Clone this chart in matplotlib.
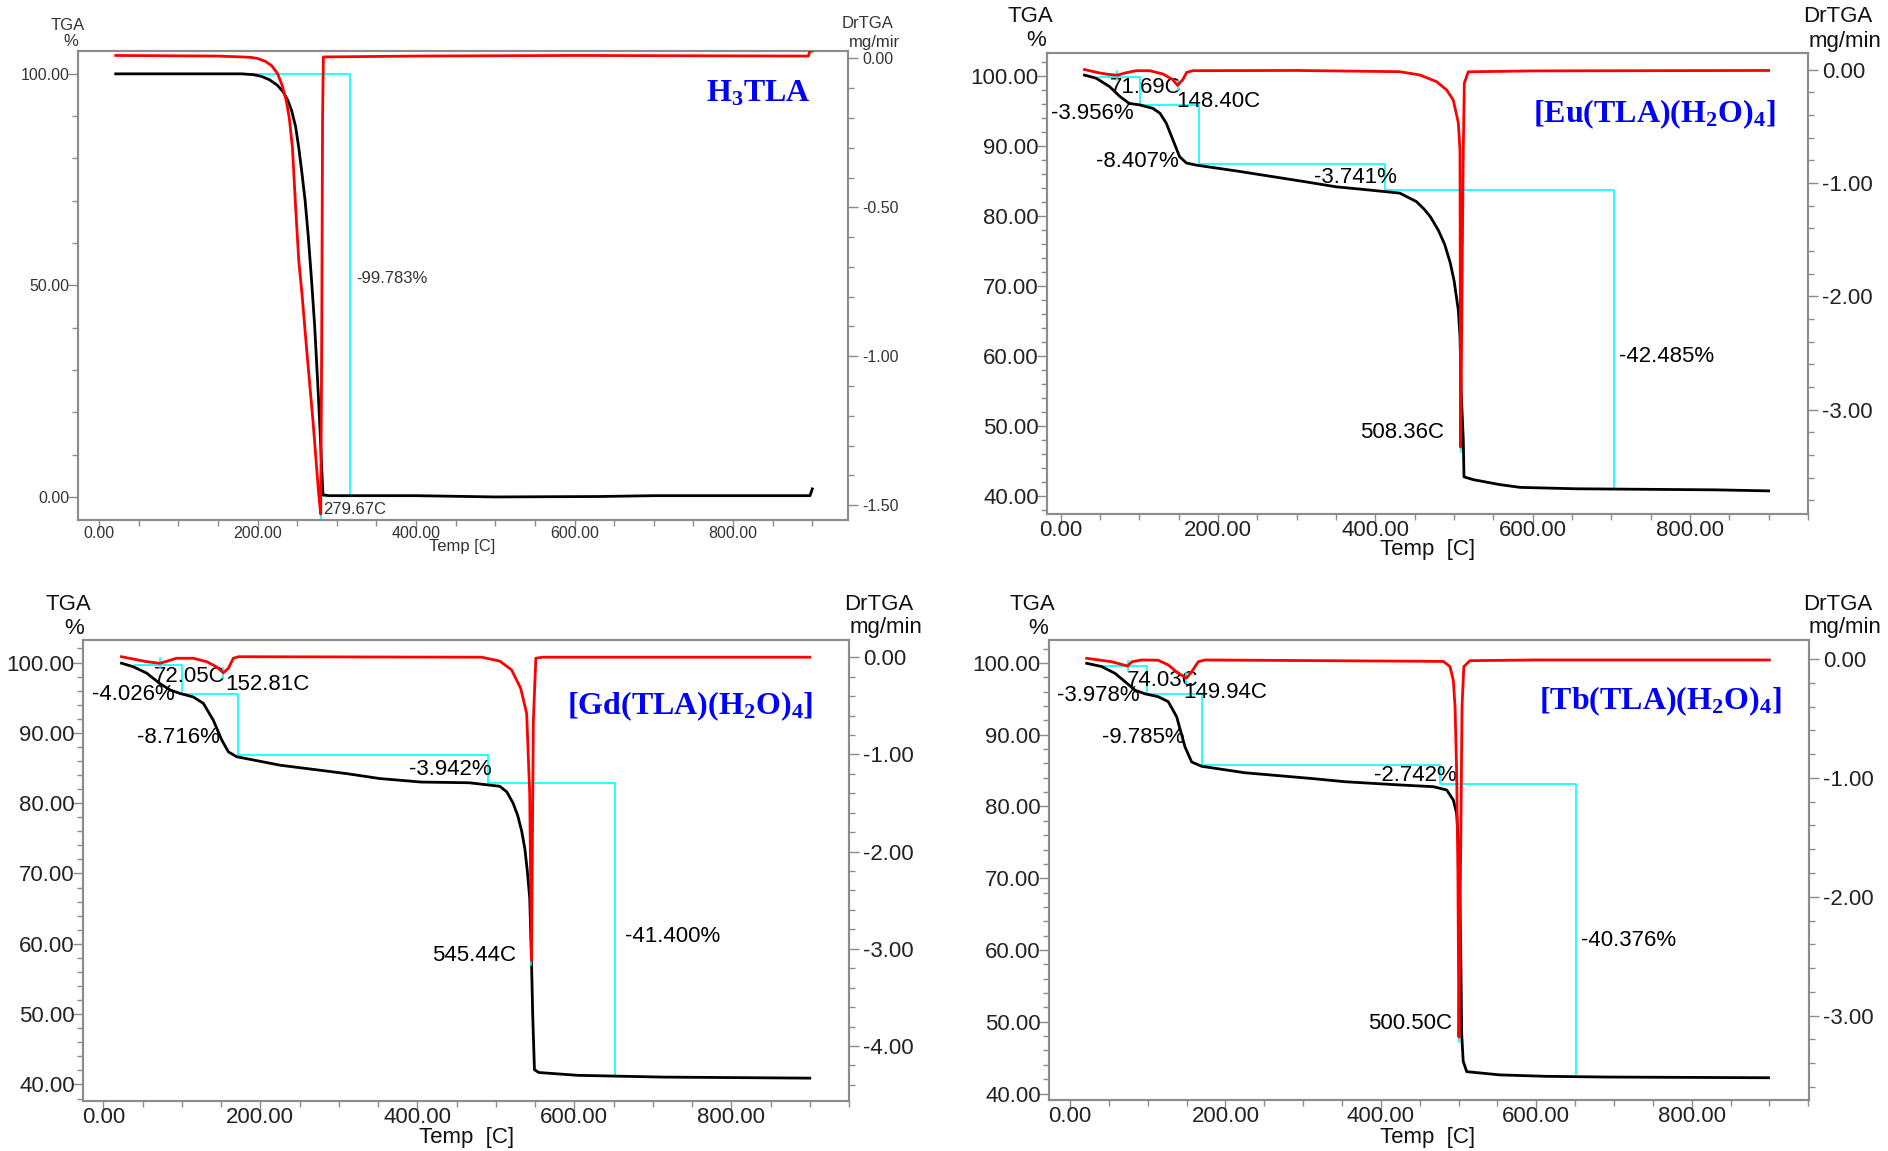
"""
TGA / DrTGA curves for the ligand and the three Ln complexes (2x2 panels).
"""

import matplotlib
matplotlib.use("Agg")
import matplotlib.pyplot as plt
from matplotlib.ticker import MultipleLocator, FormatStrFormatter
from matplotlib.transforms import Bbox, TransformedBbox

W_PX, H_PX = 1888, 1151
DPI = 100

_BLACK = "#000000"
_RED = "#FF0000"
_CYAN = "#00FFFF"
_FRAME = "#8C8C8C"
_TITLE = "#0000FF"

plt.rcParams["font.family"] = ["Liberation Sans", "DejaVu Sans"]
plt.rcParams["mathtext.default"] = "regular"

# ---------------- H3TLA ----------------
h3tla_temp = [21, 100, 180, 195, 205, 215, 225, 232, 238, 243, 248, 252, 256, 260,
              264, 268, 272, 276, 279, 281, 282.5, 290, 400, 500, 630, 700, 800, 897, 900]
h3tla_tga = [100, 100, 100, 99.8, 99.4, 98.6, 97.3, 95.8, 93.8, 91.3, 87.5, 82.5, 76.5,
             70.0, 61.5, 51.5, 40.5, 26.5, 15.0, 6.5, 0.5, 0.3, 0.3, 0.0, 0.1, 0.3, 0.3,
             0.3, 1.9]
h3tla_dtemp = [21, 150, 190, 200, 210, 218, 225, 231, 236, 240, 244, 248, 252, 256, 262,
               270, 277, 279.67, 281, 282, 283, 400, 600, 895, 897, 900]
h3tla_dtg = [0.01, 0.008, 0.004, 0.0, -0.01, -0.025, -0.05, -0.09, -0.14, -0.2, -0.3,
             -0.5, -0.68, -0.79, -0.98, -1.22, -1.46, -1.53, -0.9, -0.2, 0.005, 0.008,
             0.01, 0.008, 0.025, 0.025]
h3tla_peaks = [279.67]
h3tla_losses = [99.783]

# ---------------- Eu ----------------
eu_temp = [30, 45, 62, 75, 87, 100, 117, 126, 134, 142.5, 151, 159.6, 172, 227, 312,
           350, 387, 431, 452, 462, 470, 480, 488, 495, 500, 505.4, 507.5, 509, 511.7,
           512.6, 524.5, 558, 584, 655, 831, 900]
eu_tga = [100.15, 99.7, 98.5, 97.1, 96.1, 95.9, 95.4, 94.7, 93.3, 90.9, 88.5, 87.6, 87.3,
          86.4, 84.9, 84.2, 83.8, 83.3, 82.1, 81.0, 79.9, 78.0, 76.0, 73.4, 70.8, 66.6,
          62.8, 55.0, 48.1, 42.8, 42.4, 41.7, 41.3, 41.1, 40.95, 40.8]
eu_dtemp = [30, 49, 60, 71.69, 83, 96, 113, 130, 142.5, 148.4, 155, 160, 168, 300, 431,
            456.6, 477.8, 490.6, 499, 505.4, 507.5, 508.36, 510.5, 511.7, 513, 518, 600,
            900]
eu_dtg = [0.0, -0.03, -0.042, -0.05, -0.028, -0.01, -0.01, -0.04, -0.09, -0.14, -0.09,
          -0.025, -0.01, -0.008, -0.019, -0.048, -0.107, -0.18, -0.27, -0.47, -0.71,
          -3.33, -1.6, -0.71, -0.12, -0.02, -0.012, -0.008]
eu_peaks = [71.69, 148.40, 508.36]
eu_losses = [3.956, 8.407, 3.741, 42.485]

# ---------------- Gd ----------------
gd_temp = [23, 38, 55, 72, 85, 97.6, 114.5, 127.3, 140, 150.7, 159.2, 169.8, 225, 310,
           352, 405, 466, 505, 514, 522, 528, 533, 537, 540, 543.2, 545.44, 547, 549.2,
           554.7, 604.5, 712, 900]
gd_tga = [99.9, 99.4, 98.5, 97.0, 96.1, 95.6, 95.1, 94.2, 91.8, 89.0, 87.3, 86.6, 85.4,
          84.2, 83.5, 83.0, 82.9, 82.4, 81.6, 80.0, 78.2, 76.0, 73.5, 70.5, 66.5, 57.7,
          49.9, 42.1, 41.7, 41.3, 41.05, 40.9]
gd_dtemp = [23, 55, 72.05, 79, 93, 114.5, 131.6, 144.3, 152.81, 159.2, 165.5, 172, 482,
            505, 520, 531.7, 539.3, 543.2, 545.44, 547.8, 551, 560, 900]
gd_dtg = [0.005, -0.046, -0.063, -0.046, -0.011, -0.011, -0.046, -0.1, -0.16, -0.115,
          -0.011, 0.005, 0.0, -0.04, -0.13, -0.32, -0.58, -1.41, -3.12, -0.66, -0.01,
          0.0, 0.0]
gd_peaks = [72.05, 152.81, 545.44]
gd_losses = [4.026, 8.716, 3.942, 41.400]

# ---------------- Tb ----------------
tb_temp = [21.5, 40.8, 58, 70.8, 83.7, 96.5, 113.6, 126.5, 137.3, 148, 156.6, 169.5,
           225, 311, 354, 424.7, 467.5, 484.8, 493.3, 497.6, 499.7, 501.9, 503.2, 504,
           506, 510.5, 553, 612, 690, 899]
tb_tga = [99.95, 99.5, 98.55, 97.4, 96.2, 95.7, 95.3, 94.6, 92.5, 88.3, 86.2, 85.6,
          84.7, 83.9, 83.45, 83.0, 82.76, 82.3, 80.9, 79.0, 75.3, 66.0, 56.8, 48.4, 44.5,
          43.05, 42.6, 42.4, 42.3, 42.2]
tb_dtemp = [21.5, 53.7, 74.03, 79.7, 92, 113.6, 126.5, 139.4, 149.94, 156.6, 165.1,
            173.7, 480.4, 489, 493.3, 495.5, 497.6, 499.2, 500.5, 502.5, 504.5, 506.8,
            514.7, 600, 900]
tb_dtg = [0.006, -0.023, -0.059, -0.023, -0.008, -0.01, -0.05, -0.12, -0.16, -0.107,
          -0.023, -0.008, -0.02, -0.064, -0.18, -0.40, -0.96, -1.80, -3.18, -1.80, -0.40,
          -0.064, -0.014, -0.008, -0.008]
tb_peaks = [74.03, 149.94, 500.50]
tb_losses = [3.978, 9.785, 2.742, 40.376]


def fx(px):
    return px / W_PX


def fy(py):
    return 1 - py / H_PX


def make_axes(fig, box, xlim, ylim, ylim2, ymaj, ymin, y2maj, y2min, fs):
    """Left TGA axis plus twin DrTGA axis, placed by pixel box (l, t, r, b)."""
    left, top, right, bottom = box
    ax = fig.add_axes([fx(left), fy(bottom), fx(right - left), (bottom - top) / H_PX])
    ax2 = ax.twinx()
    ax.set_xlim(*xlim)
    ax.set_ylim(*ylim)
    ax2.set_ylim(*ylim2)
    ax.xaxis.set_major_locator(MultipleLocator(200))
    ax.xaxis.set_minor_locator(MultipleLocator(50))
    ax.yaxis.set_major_locator(MultipleLocator(ymaj))
    ax.yaxis.set_minor_locator(MultipleLocator(ymin))
    ax2.yaxis.set_major_locator(MultipleLocator(y2maj))
    ax2.yaxis.set_minor_locator(MultipleLocator(y2min))
    for a in (ax, ax2):
        a.xaxis.set_major_formatter(FormatStrFormatter("%.2f"))
        a.yaxis.set_major_formatter(FormatStrFormatter("%.2f"))
        for sp in a.spines.values():
            sp.set_color(_FRAME)
            sp.set_linewidth(1.5)
    tick_col = "#222222" if fs > 13 else "#333333"
    ax.tick_params(which="both", direction="out", color=_FRAME, width=1.0,
                   labelsize=fs, labelcolor=tick_col, top=False, right=False)
    ax.tick_params(which="major", length=7)
    ax.tick_params(which="minor", length=4)
    ax.tick_params(axis="x", which="major", pad=-3)
    ax.tick_params(axis="y", which="major", pad=-1)
    ax2.tick_params(which="both", direction="out", color=_FRAME, width=1.0,
                    labelsize=fs, labelcolor=tick_col)
    ax2.tick_params(which="major", length=7, pad=3)
    ax2.tick_params(which="minor", length=4)
    return ax, ax2


def draw_steps(ax, x_breaks, start_level, losses):
    # staircase of mass-loss steps: one level per step, dropping by each loss
    levels = [start_level]
    for loss in losses:
        levels.append(levels[-1] - loss)
    xs, ys = [x_breaks[0]], [levels[0]]
    for i in range(1, len(x_breaks)):
        xs += [x_breaks[i], x_breaks[i]]
        ys += [levels[i - 1], levels[i]]
    ax.plot(xs, ys, color=_CYAN, lw=1.2, zorder=1)


def draw_peak_marks(ax2, peaks, dtemp, dtg, half):
    for p in peaks:
        d = dtg[dtemp.index(p)]
        ax2.plot([p, p], [d - half, d + half], color=_CYAN, lw=1.2, zorder=1)


def draw_curves(ax, ax2, temp, tga, dtemp, dtg):
    # TGA in black on the left scale, DrTGA in red on top of it
    ax.plot(temp, tga, color=_BLACK, lw=2.0, zorder=2)
    ax2.plot(dtemp, dtg, color=_RED, lw=2.0, zorder=3)


fig = plt.figure(figsize=(W_PX / DPI, H_PX / DPI), dpi=DPI)
fig.patch.set_facecolor("white")

big = 16
ann = 16

# ---------------- panel: H3TLA ----------------
ax, ax2 = make_axes(fig, (78, 51, 848, 520), (-26.6, 945), (-5.45, 105.4),
                    (-1.55, 0.025), 50, 10, 0.5, 0.1, 11.5)
draw_steps(ax, [180, 316], 100.0, h3tla_losses)
ax.plot([283, 316], [100.0 - h3tla_losses[0]] * 2, color=_CYAN, lw=1.2, zorder=1)
draw_peak_marks(ax2, h3tla_peaks, h3tla_dtemp, h3tla_dtg, 0.025)
draw_curves(ax, ax2, h3tla_temp, h3tla_tga, h3tla_dtemp, h3tla_dtg)
ax.text(325, 51.7, f"-{h3tla_losses[0]:.3f}%", fontsize=12, color="#333333",
        ha="left", va="center")
ax.text(283, -3.0, f"{h3tla_peaks[0]:.2f}C", fontsize=12, color="#333333",
        ha="left", va="center")

# ---------------- panel: Eu ----------------
ax, ax2 = make_axes(fig, (1047, 53, 1808, 514), (-17.6, 950), (37.5, 103.3),
                    (-3.92, 0.146), 10, 2, 1, 0.2, big)
draw_steps(ax, [48, 101, 176, 412, 703], 99.85, eu_losses)
draw_peak_marks(ax2, eu_peaks, eu_dtemp, eu_dtg, 0.04)
draw_curves(ax, ax2, eu_temp, eu_tga, eu_dtemp, eu_dtg)
for (t, w), v in zip([(62.9, 98.35), (146.9, 96.35), (380.9, 49.2)], eu_peaks):
    ax.text(t, w, f"{v:.2f}C", fontsize=ann, ha="left", va="center")
for (t, w), v in zip([(-12.3, 94.7), (45, 87.8), (321.8, 85.6), (710, 60.0)], eu_losses):
    ax.text(t, w, f"-{v:.3f}%", fontsize=ann, ha="left", va="center")

# ---------------- panel: Gd ----------------
ax, ax2 = make_axes(fig, (83, 640, 849, 1101), (-26, 950), (37.65, 103.2),
                    (-4.566, 0.177), 10, 2, 1, 0.2, big)
draw_steps(ax, [40, 100.5, 172, 489.5, 652], 99.6, gd_losses)
draw_peak_marks(ax2, gd_peaks, gd_dtemp, gd_dtg, 0.05)
draw_curves(ax, ax2, gd_temp, gd_tga, gd_dtemp, gd_dtg)
for (t, w), v in zip([(64.5, 97.98), (155, 96.9), (418.9, 58.4)], gd_peaks):
    ax.text(t, w, f"{v:.2f}C", fontsize=ann, ha="left", va="center")
for (t, w), v in zip([(-15, 95.4), (42.4, 89.3), (389.7, 84.8), (664.4, 61.0)], gd_losses):
    ax.text(t, w, f"-{v:.3f}%", fontsize=ann, ha="left", va="center")

# ---------------- panel: Tb ----------------
ax, ax2 = make_axes(fig, (1049, 640, 1809, 1100), (-27, 951), (39.1, 103.2),
                    (-3.71, 0.16), 10, 2, 1, 0.2, big)
draw_steps(ax, [38, 99, 170.5, 476.7, 651], 99.6, tb_losses)
draw_peak_marks(ax2, tb_peaks, tb_dtemp, tb_dtg, 0.04)
draw_curves(ax, ax2, tb_temp, tb_tga, tb_dtemp, tb_dtg)
for (t, w), v in zip([(73, 97.5), (145.8, 95.9), (383.7, 49.7)], tb_peaks):
    ax.text(t, w, f"{v:.2f}C", fontsize=ann, ha="left", va="center")
for (t, w), v in zip([(-17.1, 95.5), (40.8, 89.6), (391.5, 84.3), (657.4, 61.3)], tb_losses):
    ax.text(t, w, f"-{v:.3f}%", fontsize=ann, ha="left", va="center")

# ---------------- axis captions ----------------
small = dict(fontsize=12, color="#333333", ha="center", va="center")
large = dict(fontsize=16, color="#111111", ha="center", va="center")

fig.text(fx(68), fy(25), "TGA", **small)
fig.text(fx(71), fy(42), "%", **small)
fig.text(fx(868), fy(24), "DrTGA", **small)
# the unit under DrTGA runs into the panel edge and is cut off there
clip = TransformedBbox(Bbox.from_extents(0, 0, fx(899), 1), fig.transFigure)
t = fig.text(fx(849), fy(42), "mg/min", fontsize=12, color="#333333",
             ha="left", va="center")
t.set_clip_box(clip)
t.set_clip_on(True)
fig.text(fx(462), fy(547), "Temp [C]", **small)

for cx, cy in [(1030, 17), (68, 604), (1032, 604)]:
    fig.text(fx(cx), fy(cy), "TGA", **large)
    fig.text(fx(cx + 6), fy(cy + 24), "%", **large)
for cx, cy in [(1838, 17), (879, 604), (1838, 604)]:
    fig.text(fx(cx), fy(cy), "DrTGA", **large)
    fig.text(fx(cx + 7), fy(cy + 24), "mg/min", **large)
for cx, cy in [(1428, 550), (467, 1138), (1428, 1138)]:
    fig.text(fx(cx), fy(cy), "Temp  [C]", **large)

# ---------------- sample names ----------------
title_kw = dict(fontsize=23, color=_TITLE, family="Liberation Serif",
                weight="bold", ha="center", va="baseline")
fig.text(fx(758), fy(101), r"H$_3$TLA", **title_kw)
fig.text(fx(1654), fy(122), r"[Eu(TLA)(H$_2$O)$_4$]", **title_kw)
fig.text(fx(690), fy(714), r"[Gd(TLA)(H$_2$O)$_4$]", **title_kw)
fig.text(fx(1660), fy(709), r"[Tb(TLA)(H$_2$O)$_4$]", **title_kw)

fig.savefig("out.png", dpi=DPI)
plt.close(fig)
